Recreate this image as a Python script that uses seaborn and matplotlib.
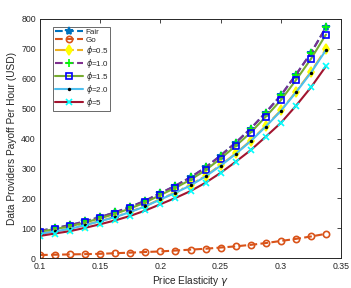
import numpy as np
import pandas as pd
import matplotlib
matplotlib.use("Agg")
import matplotlib.pyplot as plt
import seaborn as sns

gamma = [0.1, 0.1125, 0.125, 0.1375, 0.15, 0.1625, 0.175, 0.1875, 0.2, 0.2125,
         0.225, 0.2375, 0.25, 0.2625, 0.275, 0.2875, 0.3, 0.3125, 0.325, 0.3375]
fair = [91, 100, 110, 123, 137, 153, 171, 192, 217, 242, 270, 303, 343, 386, 433, 487, 544, 613, 686, 772]
go = [10, 11, 12, 13, 14, 16, 18, 20, 22, 25, 28, 31, 35, 39, 44, 50, 57, 64, 72, 81]
phi05 = [82, 90, 99, 111, 124, 138, 155, 174, 197, 220, 245, 275, 311, 350, 393, 442, 494, 556, 623, 700]
phi10 = [91, 100, 110, 123, 137, 153, 171, 192, 217, 242, 270, 303, 343, 386, 433, 487, 544, 613, 686, 772]
phi15 = [88, 97, 106, 119, 133, 148, 166, 186, 211, 235, 262, 294, 333, 375, 420, 473, 528, 595, 666, 748]
phi20 = [81, 89, 98, 110, 123, 137, 154, 173, 196, 218, 243, 273, 309, 348, 391, 440, 492, 554, 620, 696]
phi5 = [74, 82, 90, 101, 113, 126, 141, 159, 180, 201, 224, 252, 285, 322, 361, 406, 452, 509, 571, 642]

labels = ["Fair", "Go", r"$\phi$=0.5", r"$\phi$=1.0", r"$\phi$=1.5", r"$\phi$=2.0", r"$\phi$=5"]
series = [fair, go, phi05, phi10, phi15, phi20, phi5]

styles = [
    dict(color="#0072BD", ls="--", marker="*", mfc="#0072BD", mec="#0072BD", ms=6),
    dict(color="#D95319", ls="--", marker="o", mfc="none", mec="#D95319", ms=4.5),
    dict(color="#EDB120", ls="-.", marker="d", mfc="yellow", mec="yellow", ms=5),
    dict(color="#7E2F8E", ls="--", marker="+", mfc="#00FF00", mec="#00FF00", ms=6),
    dict(color="#77AC30", ls="-", marker="s", mfc="none", mec="#0000FF", ms=4),
    dict(color="#4DBEEE", ls="-", marker=".", mfc="black", mec="black", ms=2.5),
    dict(color="#A2142F", ls="-", marker="x", mfc="#00FFFF", mec="#00FFFF", ms=5),
]

df = pd.DataFrame({"gamma": np.tile(gamma, len(series)),
                   "payoff": np.concatenate(series),
                   "series": np.repeat(labels, len(gamma))})

sns.set_style("white")
plt.rcParams["font.family"] = ["Liberation Sans", "DejaVu Sans"]
plt.rcParams["mathtext.fontset"] = "dejavusans"

fig = plt.figure(figsize=(3.51, 2.88), dpi=100)
ax = fig.add_axes([40/351, 1-258/288, 301/351, 239/288])

for lab, st in zip(labels, styles):
    sub = df[df["series"] == lab]
    sns.lineplot(data=sub, x="gamma", y="payoff", ax=ax, color=st["color"],
                 linestyle=st["ls"], marker=st["marker"], markerfacecolor=st["mfc"],
                 markeredgecolor=st["mec"], markersize=st["ms"], markeredgewidth=1.2,
                 linewidth=1.5, label=lab)

ax.set_xlim(0.1, 0.35)
ax.set_ylim(0, 800)
ax.set_xticks([0.1, 0.15, 0.2, 0.25, 0.3, 0.35])
ax.set_xticklabels(["0.1", "0.15", "0.2", "0.25", "0.3", "0.35"])
ax.set_yticks(range(0, 801, 100))
ax.tick_params(direction="in", length=3, width=0.6, top=True, right=True,
               labelsize=6.3, colors="#262626", pad=3)
for sp in ax.spines.values():
    sp.set_visible(True)
    sp.set_color("#262626")
    sp.set_linewidth(0.7)
ax.set_xlabel(r"Price Elasticity $\gamma$", fontsize=7.3, color="#262626", labelpad=2)
ax.set_ylabel("Data Providers Payoff Per Hour (USD)", fontsize=7.3, color="#262626", labelpad=3)

leg = ax.legend(loc="upper left", fontsize=5.8, handlelength=3.5, handletextpad=0.3,
                labelspacing=0.0, borderpad=0.25, frameon=True, fancybox=False,
                bbox_to_anchor=(0.03, 0.985))
leg.get_frame().set_edgecolor("#262626")
leg.get_frame().set_linewidth(0.6)

fig.savefig("out.png", dpi=100)
